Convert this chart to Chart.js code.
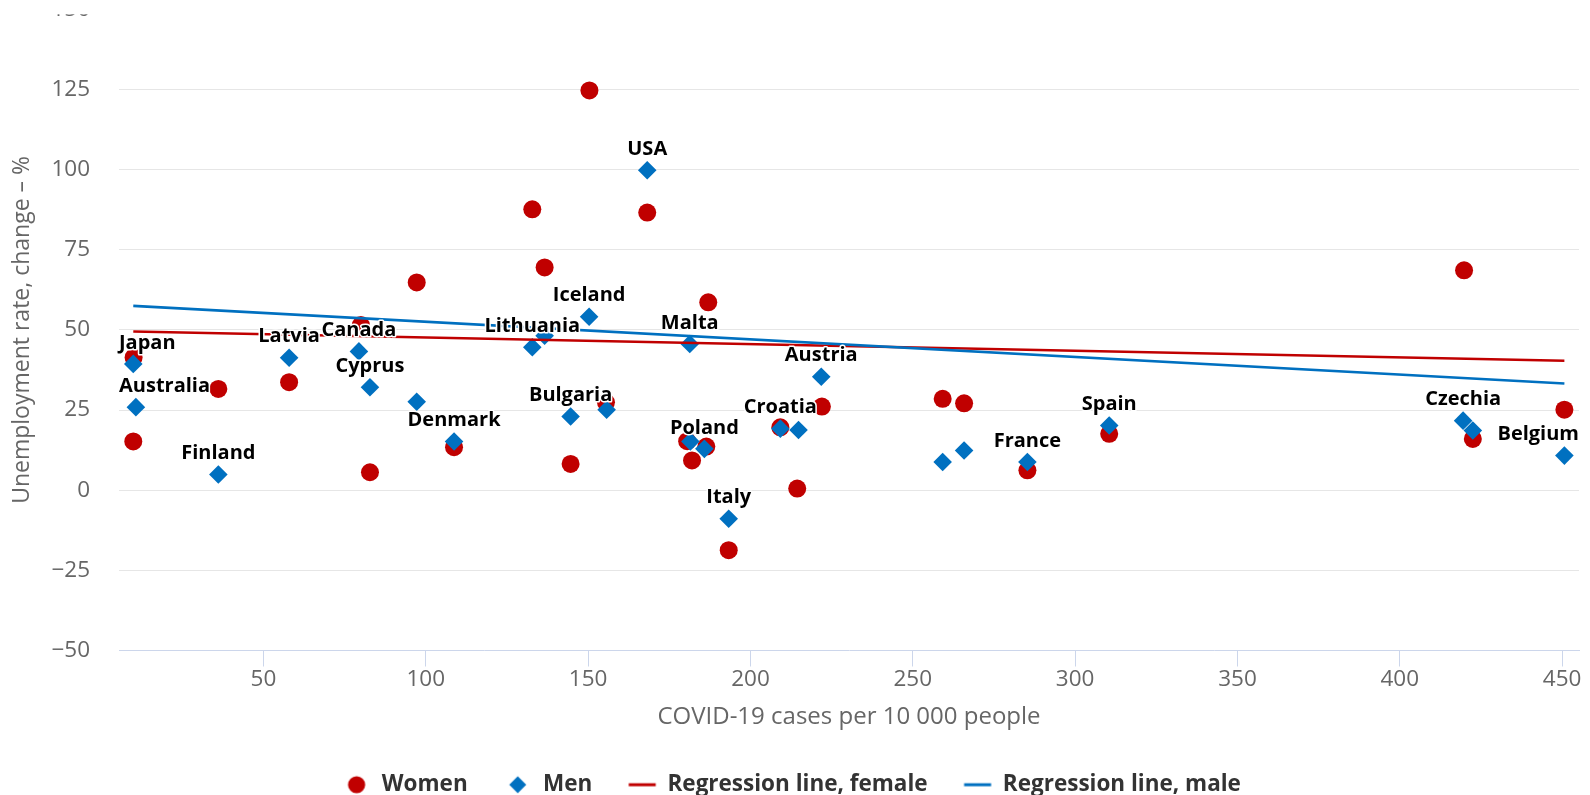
<!DOCTYPE html>
<html>
<head>
<meta charset="utf-8">
<script src="https://cdn.jsdelivr.net/npm/chart.js@4.4.1/dist/chart.umd.min.js"></script>
<style>
  html, body { margin: 0; padding: 0; background: #ffffff; overflow: hidden; }
  #wrap { position: absolute; left: 0; top: 0; width: 1590px; height: 806px; }
</style>
</head>
<body>
<div id="wrap"><canvas id="chart"></canvas></div>
<script>
// COVID-19 cases per 10 000 people (x) vs change in unemployment rate, % (y)
const womenX = [10.0, 9.9, 36.1, 57.9, 80.0, 82.8, 97.2, 108.7, 132.8, 136.6, 144.6, 150.4, 155.5, 168.2,
                180.5, 182.0, 186.4, 187.0, 193.3, 209.2, 214.4, 222.0, 259.2, 265.8, 285.3, 310.5, 419.8, 422.5, 450.7];
const womenY = [41.4, 15.2, 31.6, 33.7, 51.5, 5.6, 64.8, 13.4, 87.6, 69.5, 8.2, 124.7, 27.4, 86.6,
                15.3, 9.3, 13.6, 58.6, -18.7, 19.6, 0.5, 26.1, 28.5, 27.1, 6.2, 17.6, 68.6, 16.0, 25.1];

const menX = [9.9, 10.7, 36.1, 57.9, 79.4, 82.8, 97.2, 108.7, 132.8, 136.6, 144.6, 150.3, 155.7, 168.2,
              181.3, 181.5, 185.8, 193.3, 209.2, 214.8, 221.8, 259.2, 265.8, 285.3, 310.5, 419.5, 422.5, 450.7];
const menY = [39.4, 25.9, 4.9, 41.3, 43.3, 32.1, 27.6, 15.2, 44.6, 48.2, 23.0, 54.1, 25.1, 99.8,
              45.6, 15.2, 12.9, -8.9, 19.2, 18.8, 35.4, 8.8, 12.4, 8.8, 20.2, 21.7, 18.6, 10.8];
const menLabels = ['Japan', 'Australia', 'Finland', 'Latvia', 'Canada', 'Cyprus', '', 'Denmark', 'Lithuania', '', 'Bulgaria', 'Iceland', '', 'USA',
                   'Malta', '', 'Poland', 'Italy', 'Croatia', '', 'Austria', '', '', 'France', 'Spain', 'Czechia', '', 'Belgium'];

// Regression line end points
const fitFemaleX = [9.9, 450.7];
const fitFemaleY = [49.5, 40.4];
const fitMaleX = [9.9, 450.7];
const fitMaleY = [57.5, 33.3];

const xTicks = [50, 100, 150, 200, 250, 300, 350, 400, 450];
const yTicks = [-50, -25, 0, 25, 50, 75, 100, 125, 150];

const seriesNames = ['Women', 'Men', 'Regression line, female', 'Regression line, male'];

const RED = '#c00000';
const BLUE = '#0070c0';

const toPoints = (xs, ys) => xs.map((x, i) => ({ x: x, y: ys[i] }));

// small canvases used as legend symbols
function legendSymbol(kind, color) {
  const c = document.createElement('canvas');
  c.width = 30; c.height = 20;
  const g = c.getContext('2d');
  g.fillStyle = color;
  if (kind === 'circle') {
    g.beginPath(); g.arc(15, 10, 8.6, 0, Math.PI * 2); g.fill();
  } else if (kind === 'diamond') {
    g.beginPath(); g.moveTo(15, 1.5); g.lineTo(23.5, 10); g.lineTo(15, 18.5); g.lineTo(6.5, 10); g.closePath(); g.fill();
  } else {
    g.fillRect(1.5, 8.5, 27, 3);
  }
  return c;
}
const legendSymbols = [
  legendSymbol('circle', RED),
  legendSymbol('diamond', BLUE),
  legendSymbol('line', RED),
  legendSymbol('line', BLUE)
];

// country names above the men's markers, kept inside the plot area
const pointLabels = {
  id: 'pointLabels',
  afterDatasetsDraw(chart) {
    const meta = chart.getDatasetMeta(1);
    const { ctx, chartArea } = chart;
    ctx.save();
    ctx.font = 'bold 20px "Open Sans"';
    ctx.textAlign = 'center';
    ctx.textBaseline = 'middle';
    ctx.lineJoin = 'round';
    ctx.lineWidth = 3;
    ctx.strokeStyle = '#ffffff';
    ctx.fillStyle = '#000000';
    meta.data.forEach((el, i) => {
      const text = menLabels[i];
      if (!text) return;
      const w = ctx.measureText(text).width;
      const x = Math.min(Math.max(el.x, chartArea.left + w / 2), chartArea.right - w / 2);
      const y = el.y - 21;
      ctx.strokeText(text, x, y);
      ctx.fillText(text, x, y);
    });
    ctx.restore();
  }
};

// blank strip along the top edge
const topStrip = {
  id: 'topStrip',
  afterDraw(chart) {
    const { ctx } = chart;
    ctx.save();
    ctx.fillStyle = '#ffffff';
    ctx.fillRect(0, 0, chart.width, chart.chartArea.top + 5);
    ctx.restore();
  }
};

const tickFont = { family: 'Open Sans', size: 22.5 };
const titleFont = { family: 'Open Sans', size: 24 };

new Chart(document.getElementById('chart'), {
  type: 'scatter',
  data: {
    datasets: [
      {
        label: seriesNames[0],
        data: toPoints(womenX, womenY),
        pointStyle: 'circle',
        pointRadius: 9,
        pointHoverRadius: 9,
        backgroundColor: RED,
        borderColor: RED,
        pointBorderWidth: 0,
        order: 3
      },
      {
        label: seriesNames[1],
        data: toPoints(menX, menY),
        pointStyle: 'rectRot',
        pointRadius: 9.3,
        pointHoverRadius: 9.3,
        backgroundColor: BLUE,
        borderColor: BLUE,
        pointBorderWidth: 0,
        order: 2
      },
      {
        type: 'line',
        label: seriesNames[2],
        data: toPoints(fitFemaleX, fitFemaleY),
        borderColor: RED,
        backgroundColor: RED,
        borderWidth: 2.6,
        pointRadius: 0,
        showLine: true,
        fill: false,
        order: 1
      },
      {
        type: 'line',
        label: seriesNames[3],
        data: toPoints(fitMaleX, fitMaleY),
        borderColor: BLUE,
        backgroundColor: BLUE,
        borderWidth: 2.6,
        pointRadius: 0,
        showLine: true,
        fill: false,
        order: 0
      }
    ]
  },
  options: {
    responsive: true,
    maintainAspectRatio: false,
    animation: false,
    layout: { padding: { top: 7.7, left: 4.5, right: 11, bottom: 0 } },
    plugins: {
      tooltip: { enabled: false },
      legend: {
        position: 'bottom',
        labels: {
          usePointStyle: true,
          pointStyleWidth: 28,
          boxHeight: 20,
          padding: 36,
          color: '#333333',
          font: { family: 'Open Sans', size: 22.5, weight: 'bold' },
          generateLabels(chart) {
            return chart.data.datasets.map((ds, i) => ({
              text: ds.label,
              pointStyle: legendSymbols[i],
              fillStyle: ds.backgroundColor,
              strokeStyle: ds.borderColor,
              lineWidth: 0,
              fontColor: '#333333',
              hidden: !chart.isDatasetVisible(i),
              datasetIndex: i
            }));
          }
        }
      }
    },
    scales: {
      x: {
        type: 'linear',
        min: 5.5,
        max: 455.2,
        afterBuildTicks(scale) { scale.ticks = xTicks.map(v => ({ value: v })); },
        afterFit(scale) { scale.height = 87; scale.paddingLeft = 0; scale.paddingRight = 0; },
        grid: { drawOnChartArea: false, drawTicks: true, tickLength: 16, color: '#ccd6eb', lineWidth: 1 },
        border: { display: true, color: '#ccd6eb', width: 1 },
        ticks: { color: '#666666', font: tickFont, padding: 0, maxRotation: 0, autoSkip: false },
        title: {
          display: true,
          text: 'COVID-19 cases per 10 000 people',
          color: '#666666',
          font: titleFont,
          padding: { top: 4, bottom: 6 }
        }
      },
      y: {
        type: 'linear',
        min: -50,
        max: 150,
        afterBuildTicks(scale) { scale.ticks = yTicks.map(v => ({ value: v })); },
        afterFit(scale) { scale.width = 114.5; scale.paddingTop = 0; scale.paddingBottom = 0; },
        grid: {
          drawTicks: false,
          lineWidth: 1,
          color: (ctx) => (ctx.tick && (ctx.tick.value === -50 || ctx.tick.value === 150)) ? 'rgba(0,0,0,0)' : '#e6e6e6'
        },
        border: { display: false },
        ticks: {
          color: '#666666',
          font: tickFont,
          padding: 29,
          autoSkip: false,
          callback: (v) => (v < 0 ? '\u2212' + Math.abs(v) : String(v))
        },
        title: {
          display: true,
          text: 'Unemployment rate, change \u2013 %',
          color: '#666666',
          font: { family: 'Open Sans', size: 23 },
          padding: { top: 4, bottom: 0 }
        }
      }
    }
  },
  plugins: [pointLabels, topStrip]
});
</script>
</body>
</html>
